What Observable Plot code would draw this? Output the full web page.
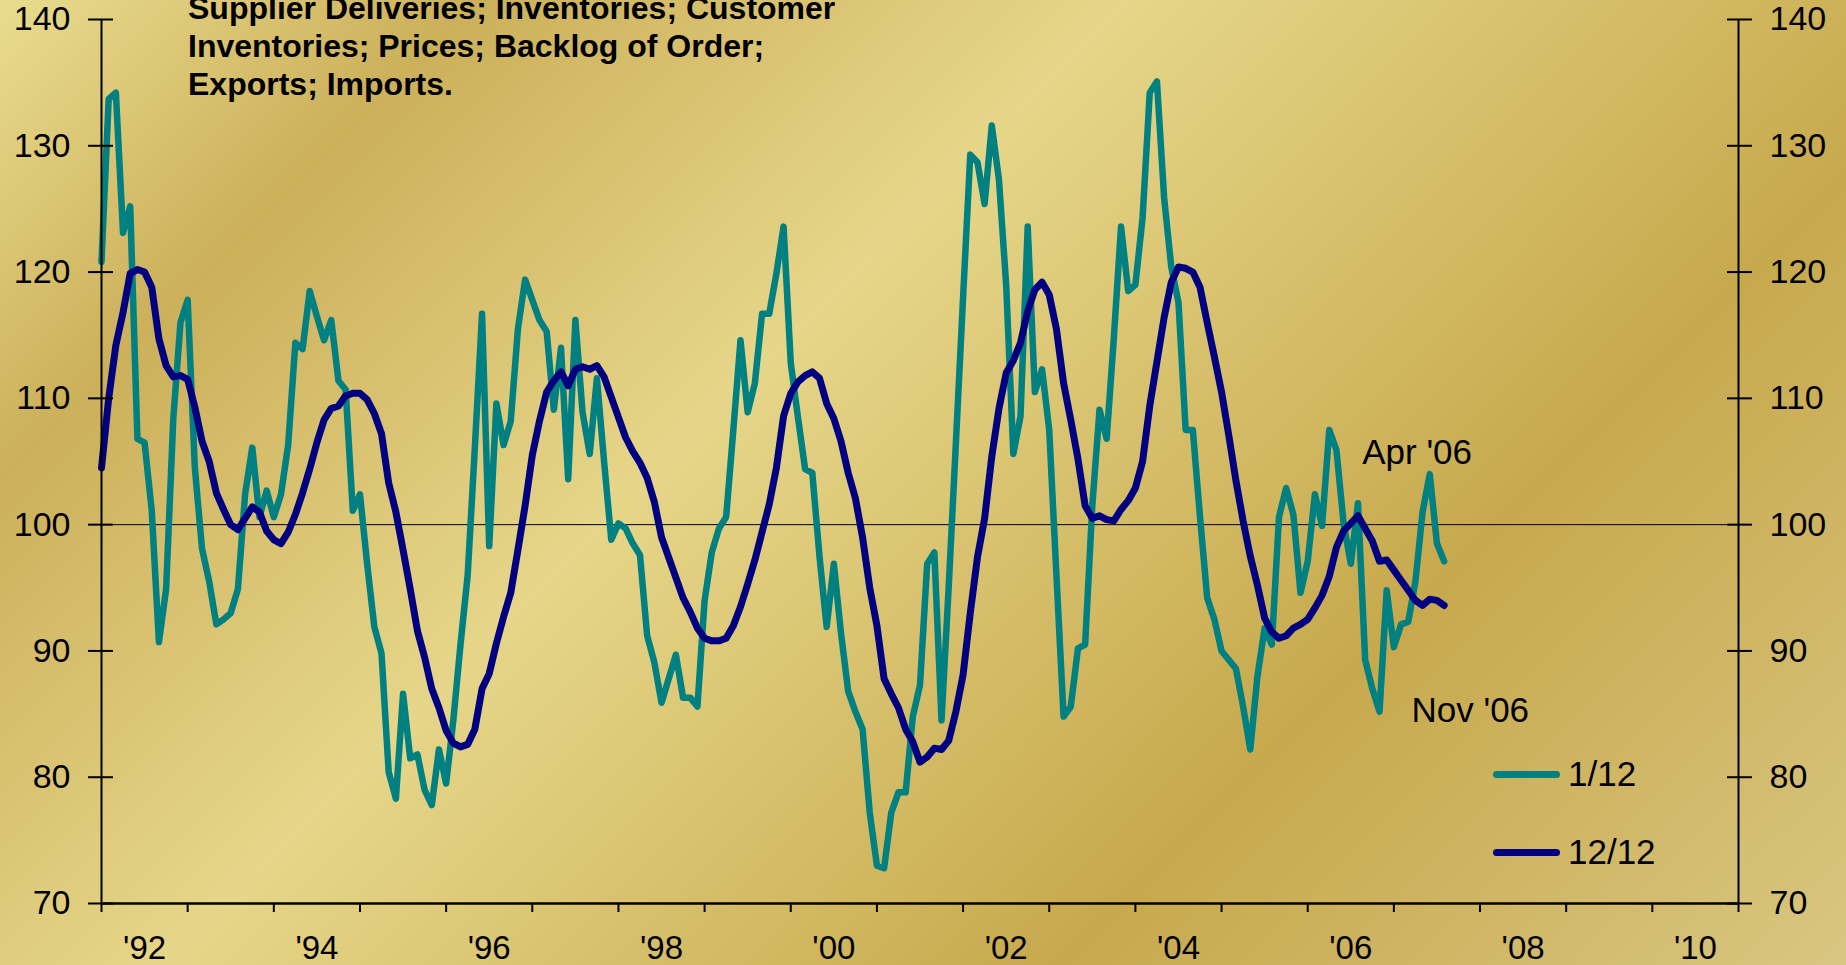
<!DOCTYPE html>
<html><head><meta charset="utf-8">
<script src="https://cdn.jsdelivr.net/npm/d3@7"></script>
<script src="https://cdn.jsdelivr.net/npm/@observablehq/plot@0.6"></script>
<style>
html,body{margin:0;padding:0;overflow:hidden;background:#d6c270;}
#wrap{position:relative;width:1846px;height:965px;overflow:hidden;
background:linear-gradient(135deg,#e9dc8f 0%,#ccb05a 17%,#e6d689 40%,#c7a94d 72%,#d9c681 100%);
font-family:"Liberation Sans",Arial,sans-serif;}
#chart{position:absolute;left:0;top:0;}
#note{position:absolute;left:188px;top:-11px;font-weight:bold;font-size:32px;line-height:38px;color:#000;white-space:nowrap;}
.leg{position:absolute;left:1493px;height:40px;display:flex;align-items:center;font-size:35px;color:#000;}
.sw{display:inline-block;width:67px;height:7px;border-radius:3.5px;margin-right:8px;}
</style></head>
<body><div id="wrap"><div id="chart"></div>
<div id="note">Supplier Deliveries; Inventories; Customer<br>Inventories; Prices; Backlog of Order;<br>Exports; Imports.</div>
<div id="legend"></div>
</div>
<script>
const startYear = 1992;
const seriesNames = ["1/12", "12/12"];
const seriesColors = ["#008080", "#000080"];

// 1/12 series, monthly from Jan 1992
const oneMonth = [
120.8,133.7,134.2,123.1,125.2,106.8,106.5,101.1,90.7,94.9,108.4,116.0,
117.8,104.5,98.1,95.5,92.1,92.5,93.0,94.9,102.4,106.1,100.6,102.7,
100.6,102.4,106.3,114.4,113.9,118.5,116.5,114.6,116.2,111.4,110.7,101.1,
102.4,96.9,91.9,89.8,80.4,78.3,86.6,81.5,81.8,79.0,77.8,82.2,
79.5,84.5,90.5,96.0,106.1,116.7,98.3,109.6,106.3,108.2,115.5,119.4,
117.8,116.2,115.3,109.1,114.0,103.6,116.2,108.9,105.6,111.6,105.0,98.8,
100.1,99.7,98.5,97.6,91.2,89.1,85.9,87.8,89.7,86.3,86.3,85.6,
94.0,97.8,99.7,100.6,107.5,114.6,108.9,111.2,116.7,116.7,119.9,123.6,
112.8,108.5,104.4,104.1,97.5,91.9,96.9,91.4,86.8,85.2,83.8,77.2,
73.0,72.8,77.2,78.8,78.8,84.8,87.3,96.9,97.8,84.5,95.1,106.5,
118.0,129.3,128.7,125.4,131.6,127.3,119.0,105.6,108.6,123.6,110.5,112.3,
107.5,96.0,84.8,85.6,90.2,90.5,101.5,109.1,106.8,114.8,123.6,118.5,
119.0,124.3,134.2,135.1,125.9,120.4,117.6,107.5,107.5,100.6,94.2,92.5,
90.0,89.3,88.6,85.6,82.2,88.0,91.8,90.5,100.6,102.9,100.8,94.6,
97.1,102.4,99.9,107.5,105.9,100.1,96.9,101.7,89.3,87.0,85.2,94.8,
90.3,92.1,92.3,95.5,101.0,104.0,98.5,97.1
];

// 12/12 series, monthly from Jan 1992
const twelveMonth = [
104.5,110.0,114.2,116.8,119.9,120.2,120.0,118.8,114.7,112.6,111.7,111.8,
111.5,109.3,106.6,105.0,102.5,101.2,100.0,99.6,100.5,101.4,101.0,99.5,
98.8,98.5,99.4,100.8,102.5,104.4,106.5,108.3,109.2,109.4,110.2,110.4,
110.4,109.9,108.8,107.2,103.3,101.0,98.0,94.9,91.6,89.5,87.0,85.5,
83.7,82.7,82.4,82.6,83.8,87.0,88.2,90.6,92.7,94.6,98.0,101.5,
105.5,108.2,110.5,111.4,112.1,111.0,112.3,112.5,112.3,112.6,111.7,110.1,
108.5,106.9,105.8,104.9,103.7,101.8,99.0,97.4,95.8,94.2,93.1,91.8,
91.0,90.8,90.8,91.0,92.0,93.5,95.3,97.2,99.4,101.6,104.5,108.6,
110.4,111.3,111.8,112.1,111.6,109.6,108.4,106.6,104.1,102.1,99.0,95.0,
92.0,87.8,86.6,85.5,83.8,82.8,81.2,81.6,82.3,82.2,82.9,85.2,
88.1,93.0,97.4,100.5,105.4,109.2,112.0,113.0,114.4,116.9,118.6,119.2,
118.2,115.5,111.2,108.3,105.2,101.5,100.5,100.7,100.4,100.3,101.2,101.9,
102.9,105.0,109.4,112.9,116.4,119.2,120.4,120.3,120.0,118.8,116.0,113.3,
110.5,107.1,103.5,100.3,97.5,95.2,92.6,91.5,91.0,91.2,91.8,92.1,
92.5,93.4,94.4,95.9,98.2,99.5,100.1,100.7,99.7,98.7,97.1,97.2,
96.4,95.6,94.8,94.0,93.6,94.1,94.0,93.6
];

const yTicks = [70, 80, 90, 100, 110, 120, 130, 140];
const yearTicks = d3.range(1992, 2012);
const labelYears = [1992, 1994, 1996, 1998, 2000, 2002, 2004, 2006, 2008, 2010];
const xLabels = ["'92", "'94", "'96", "'98", "'00", "'02", "'04", "'06", "'08", "'10"];
const annotationLabels = ["Apr '06", "Nov '06"];
const annotationIndex = [171, 178];

const toRows = (vals) => vals.map((v, i) => ({t: startYear + i / 12, v}));
const rowsA = toRows(oneMonth);
const rowsB = toRows(twelveMonth);
const ann = annotationLabels.map((label, k) => ({label, t: startYear + annotationIndex[k] / 12, v: oneMonth[annotationIndex[k]]}));

const chart = Plot.plot({
  width: 1846, height: 965,
  marginLeft: 101, marginRight: 108, marginTop: 19, marginBottom: 62,
  style: {background: "transparent", fontFamily: "Liberation Sans, Arial, sans-serif", color: "black", overflow: "visible"},
  x: {domain: [1992, 2011]},
  y: {domain: [70, 140]},
  marks: [
    Plot.ruleY([100], {stroke: "black", strokeWidth: 1}),
    Plot.line(rowsA, {x: "t", y: "v", stroke: seriesColors[0], strokeWidth: 6.5, strokeLinejoin: "round", strokeLinecap: "round"}),
    Plot.line(rowsB, {x: "t", y: "v", stroke: seriesColors[1], strokeWidth: 7, strokeLinejoin: "round", strokeLinecap: "round"}),
    Plot.ruleX([1992, 2011], {stroke: "black", strokeWidth: 2}),
    Plot.ruleY([70], {stroke: "black", strokeWidth: 2.5}),
    Plot.axisY(yTicks, {anchor: "left", tickSize: 25, dx: 12, tickPadding: 18, fontSize: 34, strokeWidth: 2, label: null}),
    Plot.axisY(yTicks, {anchor: "right", tickSize: 25, dx: -12, tickPadding: 18, fontSize: 34, strokeWidth: 2, label: null}),
    Plot.axisX(yearTicks, {tickSize: 9, strokeWidth: 2, fill: "none", label: null}),
    Plot.axisX(labelYears.map(y => y + 0.5), {tickSize: 0, tickPadding: 32, fontSize: 33, label: null,
      tickFormat: d => xLabels[labelYears.indexOf(Math.round(d - 0.5))]}),
    Plot.text([ann[0]], {x: "t", y: "v", text: "label", textAnchor: "start", dx: 33, dy: 23, fontSize: 35, fill: "black"}),
    Plot.text([ann[1]], {x: "t", y: "v", text: "label", textAnchor: "start", dx: 32, dy: -1, fontSize: 35, fill: "black"})
  ]
});
document.getElementById("chart").appendChild(chart);

// legend
const legendTops = [754, 832];
const legend = document.getElementById("legend");
seriesNames.forEach((name, i) => {
  const row = document.createElement("div");
  row.className = "leg";
  row.style.top = legendTops[i] + "px";
  const sw = document.createElement("span");
  sw.className = "sw";
  sw.style.background = seriesColors[i];
  row.appendChild(sw);
  row.appendChild(document.createTextNode(name));
  legend.appendChild(row);
});
</script>
</body></html>
